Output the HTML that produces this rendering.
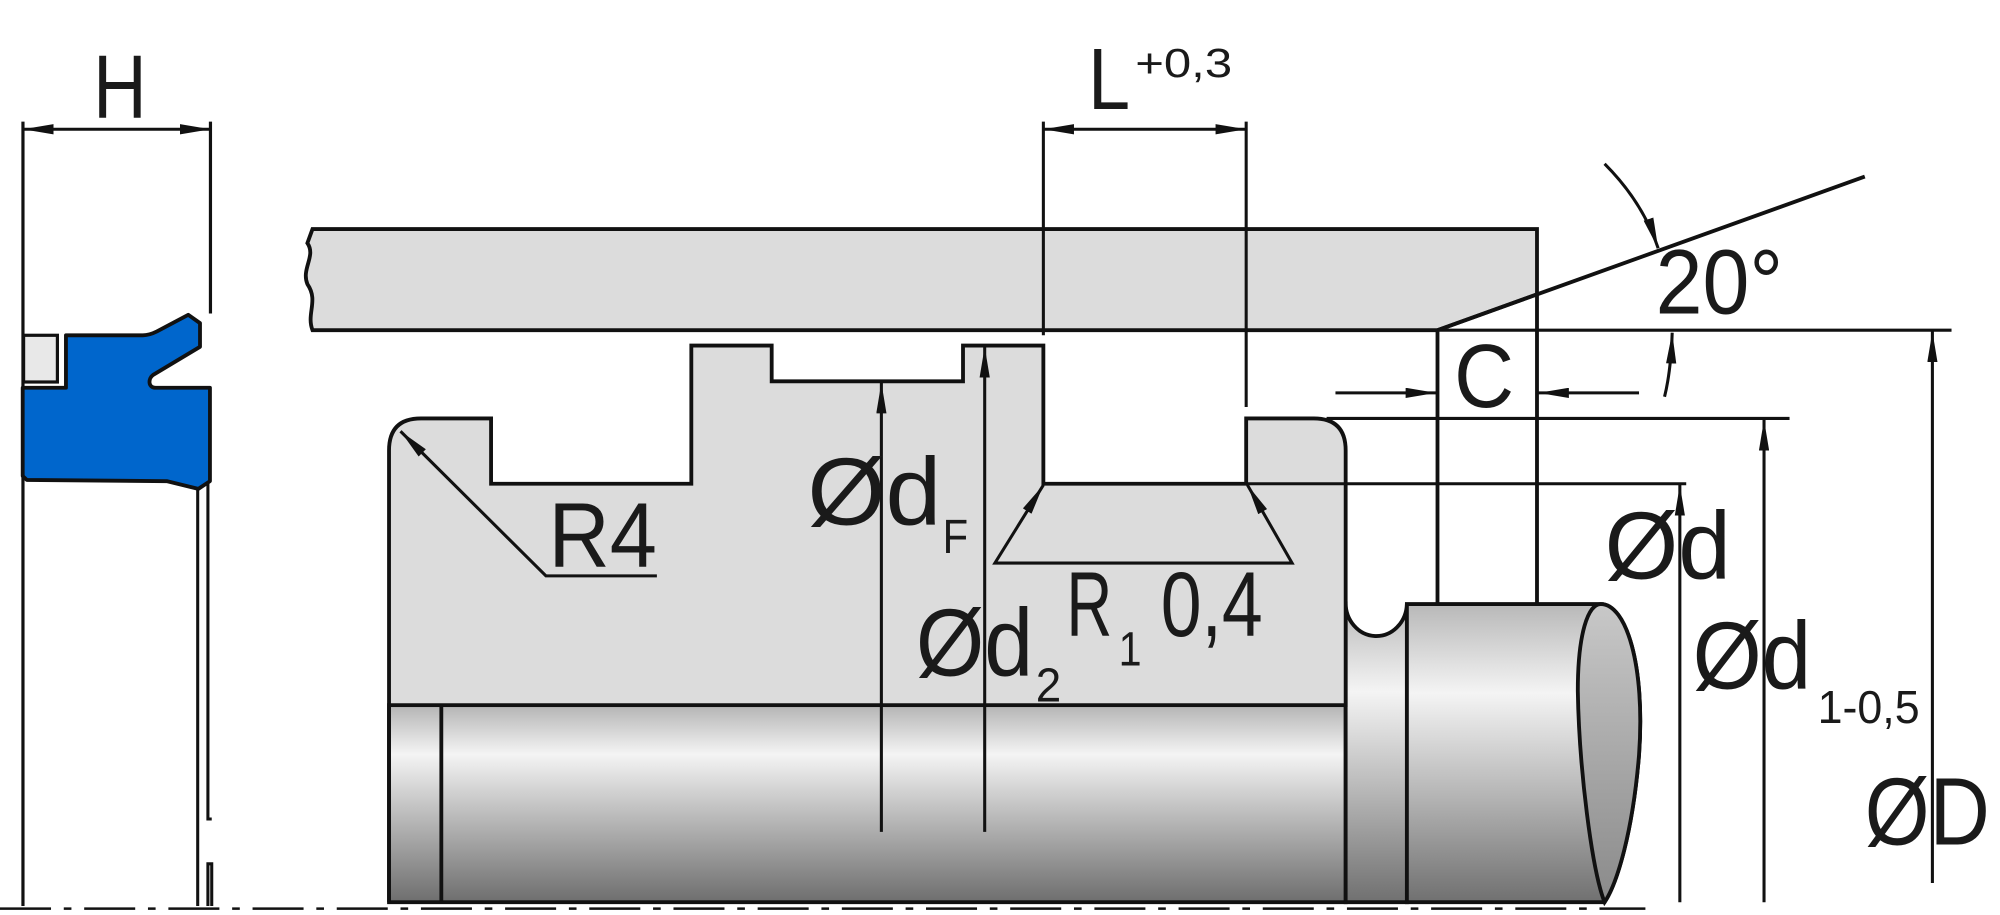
<!DOCTYPE html>
<html><head><meta charset="utf-8"><style>
html,body{margin:0;padding:0;background:#fff;width:2000px;height:915px;overflow:hidden}
svg{display:block}
text{font-family:"Liberation Sans",sans-serif;fill:#1a1a1a}
</style></head><body>
<svg width="2000" height="915" viewBox="0 0 1568 715" preserveAspectRatio="none" xmlns="http://www.w3.org/2000/svg">
<defs>
<linearGradient id="cyl" x1="0" y1="0" x2="0" y2="1">
<stop offset="0" stop-color="#b4b4b4"/><stop offset="0.25" stop-color="#f4f4f4"/><stop offset="0.55" stop-color="#bdbdbd"/><stop offset="1" stop-color="#6e6e6e"/>
</linearGradient>
<linearGradient id="cyl2" x1="0" y1="0" x2="0" y2="1">
<stop offset="0" stop-color="#b8b8b8"/><stop offset="0.3" stop-color="#f4f4f4"/><stop offset="0.6" stop-color="#bdbdbd"/><stop offset="1" stop-color="#707070"/>
</linearGradient>
<linearGradient id="endc" x1="0" y1="0" x2="0" y2="1">
<stop offset="0" stop-color="#c8c8c8"/><stop offset="1" stop-color="#8a8a8a"/>
</linearGradient>
<marker id="a" viewBox="0 0 24 8" refX="24" refY="4" markerWidth="24" markerHeight="8" markerUnits="userSpaceOnUse" orient="auto"><path d="M0,0 L24,4 L0,8z" fill="#111"/></marker>
<marker id="s" viewBox="0 0 24 8" refX="0" refY="4" markerWidth="24" markerHeight="8" markerUnits="userSpaceOnUse" orient="auto"><path d="M24,0 L0,4 L24,8z" fill="#111"/></marker>
</defs>
<g stroke="#111" stroke-width="3" fill="none">
<line x1="18" y1="95" x2="18" y2="708" stroke-width="2.5"/>
<line x1="165" y1="95" x2="165" y2="245" stroke-width="2.5"/>
<line x1="18" y1="101" x2="165" y2="101" marker-start="url(#s)" marker-end="url(#a)" stroke-width="2.4"/>
<line x1="155" y1="380" x2="155" y2="708" stroke-width="2.4"/>
<polyline points="163,376 163,640 166,640" stroke-width="2.4"/>
<polyline points="163,708 163,675 166,675 166,708" stroke-width="2.4"/>
<path d="M51.7,262 L112,262 C116,262 119,261 123,259 L147.6,246 L156.8,252.5 L156.8,271 L120,293 C116,296 116,303 122,303 L164.6,303 L164.6,376 L155.5,382 L130.7,376 L21,375 L17.8,372 L17.8,303 L51.7,303 Z" fill="#0066cc" stroke-width="3" stroke-linejoin="round"/>
<rect x="18.5" y="262" width="26.5" height="36.5" fill="#e8e8e8" stroke-width="2.5"/>
<path d="M245,179 L1205,179 L1205,230 L1127,258 L245,258 C240,245 250,235 241,222 C236,210 248,200 241,190 Z" fill="#dcdcdc"/>
<rect x="305" y="551" width="750" height="154" fill="url(#cyl)"/>
<line x1="346" y1="551" x2="346" y2="705"/>
<path d="M1055,705 L1055,470 A24,26 0 0 0 1103,472 L1103,705 Z" fill="url(#cyl2)"/>
<path d="M1103,472 L1255,472 C1275,472 1290,520 1285,590 C1280,650 1268,690 1258,705 L1103,705 Z" fill="url(#cyl2)"/>
<path d="M1255,472 C1275,472 1290,520 1285,590 C1280,650 1268,690 1258,705 C1248,680 1238,600 1237,540 C1237,495 1245,472 1255,472 Z" fill="url(#endc)"/>
<path d="M305,705 L305,352 Q305,327 330,327 L385,327 L385,378 L542,378 L542,270 L605,270 L605,298 L755,298 L755,270 L818,270 L818,378 L977,378 L977,327 L1030,327 Q1055,327 1055,352 L1055,551 L305,551" fill="#dcdcdc"/>
<line x1="0" y1="710" x2="1290" y2="710" stroke-width="2" stroke-dasharray="40,10,6,10"/>
<g stroke-width="2.4">
<line x1="818" y1="95" x2="818" y2="262"/>
<line x1="977" y1="95" x2="977" y2="318"/>
<line x1="818" y1="101" x2="977" y2="101" marker-start="url(#s)" marker-end="url(#a)"/>
<line x1="691" y1="650" x2="691" y2="299" marker-end="url(#a)"/>
<line x1="772" y1="650" x2="772" y2="271" marker-end="url(#a)"/>
<polyline points="818,379 780,440 1013,440 978,379" marker-start="url(#s)" marker-end="url(#a)"/>
<polyline points="515,450 428,450 314,337" marker-end="url(#a)"/>
<line x1="1127" y1="258" x2="1530" y2="258"/>
<path d="M1258,128 Q1288,158 1300,194" marker-end="url(#a)"/>
<path d="M1305,310 Q1310,290 1311,260" marker-end="url(#a)"/>
<line x1="1047" y1="307" x2="1126" y2="307" marker-end="url(#a)"/>
<line x1="1285" y1="307" x2="1206" y2="307" marker-end="url(#a)"/>
<line x1="1040" y1="327" x2="1403" y2="327"/>
<line x1="977" y1="378" x2="1322" y2="378"/>
<line x1="1317" y1="705" x2="1317" y2="379" marker-end="url(#a)"/>
<line x1="1383" y1="705" x2="1383" y2="328" marker-end="url(#a)"/>
<line x1="1515" y1="690" x2="1515" y2="259" marker-end="url(#a)"/>
</g>
<line x1="1127" y1="258" x2="1462" y2="138"/>
<line x1="1127" y1="258" x2="1127" y2="472"/>
<line x1="1205" y1="230" x2="1205" y2="472"/>
</g>
<g font-size="72">
<text x="73" y="92" font-size="70" textLength="42" lengthAdjust="spacingAndGlyphs">H</text>
<text x="853" y="85" font-size="68" textLength="33" lengthAdjust="spacingAndGlyphs">L</text>
<text x="890" y="60" font-size="32" textLength="76" lengthAdjust="spacingAndGlyphs">+0,3</text>
<text x="633" y="410" font-size="75" textLength="105" lengthAdjust="spacingAndGlyphs">Ød</text>
<text x="739" y="432" font-size="38" textLength="20" lengthAdjust="spacingAndGlyphs">F</text>
<text x="430" y="443" textLength="85" lengthAdjust="spacingAndGlyphs">R4</text>
<text x="718" y="528" font-size="75" textLength="92" lengthAdjust="spacingAndGlyphs">Ød</text>
<text x="812" y="548" font-size="38" textLength="20" lengthAdjust="spacingAndGlyphs">2</text>
<text x="836" y="497" textLength="36" lengthAdjust="spacingAndGlyphs">R</text>
<text x="877" y="520" font-size="38" textLength="18" lengthAdjust="spacingAndGlyphs">1</text>
<text x="910" y="497" textLength="80" lengthAdjust="spacingAndGlyphs">0,4</text>
<text x="1298" y="245" textLength="100" lengthAdjust="spacingAndGlyphs">20°</text>
<text x="1140" y="318" font-size="70" textLength="47" lengthAdjust="spacingAndGlyphs">C</text>
<text x="1258" y="452" font-size="75" textLength="99" lengthAdjust="spacingAndGlyphs">Ød</text>
<text x="1327" y="538" font-size="75" textLength="93" lengthAdjust="spacingAndGlyphs">Ød</text>
<text x="1425" y="565" font-size="36" textLength="80" lengthAdjust="spacingAndGlyphs">1-0,5</text>
<text x="1462" y="660" font-size="75" textLength="98" lengthAdjust="spacingAndGlyphs">ØD</text>
</g>
</svg>
</body></html>
